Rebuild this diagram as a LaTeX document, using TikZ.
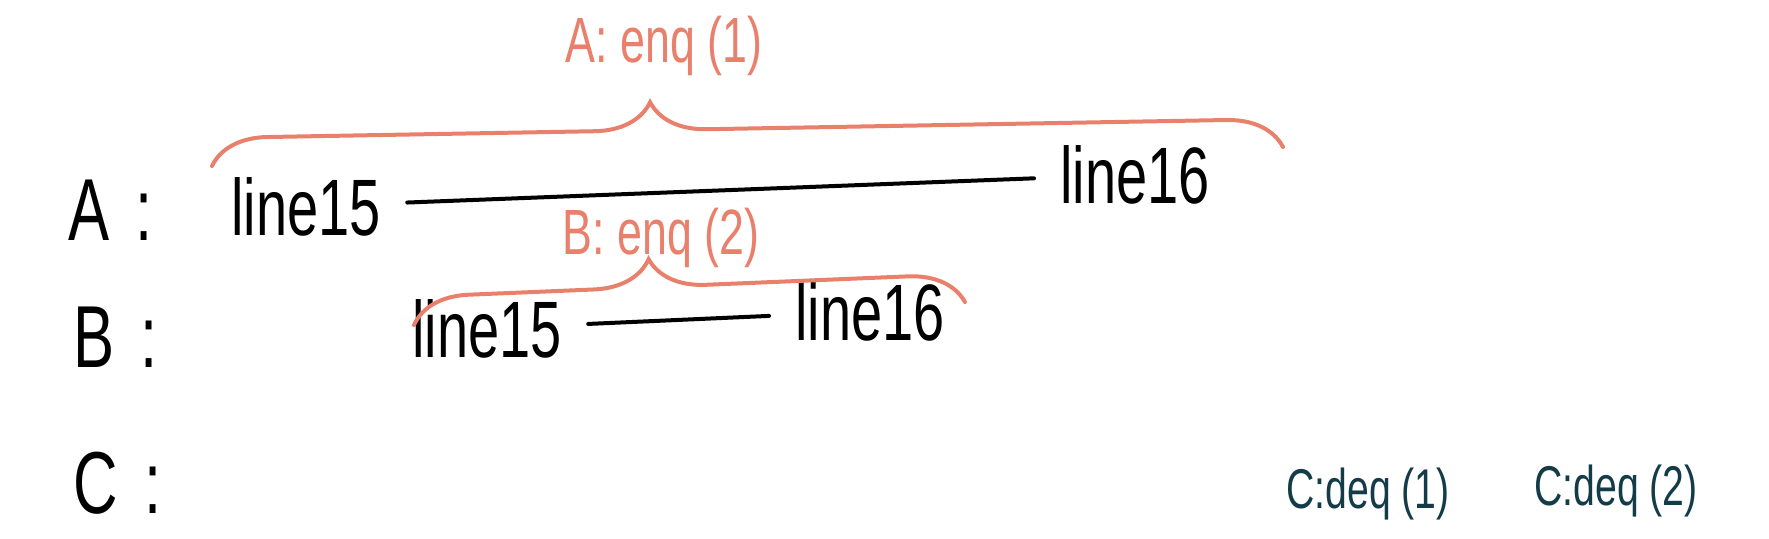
\documentclass[tikz,border=0pt]{standalone}
\usepackage{fontspec}
\setmainfont[FakeStretch=0.7]{Liberation Sans}
\usetikzlibrary{decorations.pathreplacing}
\definecolor{penorange}{RGB}{233,128,108}
\definecolor{penteal}{RGB}{20,60,72}

\begin{document}
\begin{tikzpicture}
    [%%%%%%%%%%%%%%%%%%%%%%%%%%%%%%
    x=0.5pt, y=-0.5pt,
    row/.style={anchor=base west, inner sep=0pt, font=\fontsize{44}{50}\selectfont},
    item/.style={anchor=base west, inner sep=0pt, font=\fontsize{40}{46}\selectfont},
    enqnote/.style={anchor=base, inner sep=0pt, text=penorange, font=\fontsize{32}{38}\selectfont},
    deqnote/.style={anchor=base west, inner sep=0pt, text=penteal, font=\fontsize{28}{34}\selectfont},
    track/.style={line width=2pt, line cap=round, shorten <=13pt, shorten >=13pt},
    span/.style={draw=penorange, line width=2pt, line cap=round, decorate, decoration={brace, amplitude=28pt, aspect=#1}},
    ]%%%%%%%%%%%%%%%%%%%%%%%%%%%%%%

    \useasboundingbox (0,0) rectangle (1769,538);

    % rows
    \node[row] at (68,240)(rowA){A\hspace{0.3em}:};
    \node[row] at (73,367)(rowB){B\hspace{0.3em}:};
    \node[row] at (73,513)(rowC){C\hspace{0.3em}:};

    % A
    \node[item] at (231,235)(a15){line15};
    \node[item] at (1060,203)(a16){line16};
    \draw[track](a15) -- (a16);
    \coordinate (aL) at (212,166);
    \coordinate (aR) at (1283,147);
    \draw[span=0.41](aL) -- (aR);
    \node[enqnote] at (664,62)(enqA){A: enq (1)};

    % B
    \node[item] at (412,357)(b15){line15};
    \node[item] at (795,340)(b16){line16};
    \draw[track](b15) -- (b16);
    \coordinate (bL) at (414,325);
    \coordinate (bR) at (965,302);
    \draw[span=0.43](bL) -- (bR);
    \node[enqnote] at (661,254)(enqB){B: enq (2)};

    % C
    \node[deqnote] at (1286,508)(deqC1){C:deq (1)};
    \node[deqnote] at (1534,505)(deqC2){C:deq (2)};
\end{tikzpicture}
\end{document}
